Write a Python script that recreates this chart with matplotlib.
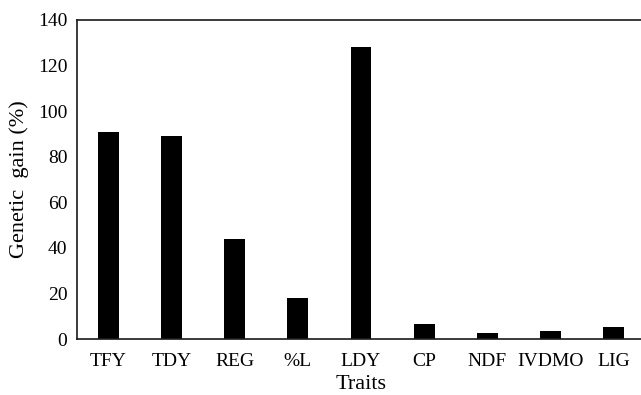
import matplotlib.pyplot as plt

plt.rcParams['font.family'] = ['Liberation Serif', 'DejaVu Serif']

# data
traits = ["TFY", "TDY", "REG", "%L", "LDY", "CP", "NDF", "IVDMO", "LIG"]
gain = [91, 89, 44, 18, 128, 6.6, 2.5, 3.6, 5.4]

fig = plt.figure(figsize=(6.41, 3.95), dpi=100)
ax = fig.add_axes([77 / 641, 56 / 395, 568 / 641, 319 / 395])

ax.bar(range(len(traits)), gain, width=0.33, color='black')
ax.set_xlim(-0.5, len(traits) - 0.5)
ax.set_ylim(0, 140)
ax.set_yticks(range(0, 141, 20))
ax.set_xticks(range(len(traits)))
ax.set_xticklabels(traits)
ax.tick_params(length=0, labelsize=14)
ax.tick_params(axis='y', pad=7)
ax.tick_params(axis='x', pad=10)

for side in ['left', 'bottom', 'top']:
    ax.spines[side].set_linewidth(1.2)
    ax.spines[side].set_color('#1a1a1a')
ax.spines['right'].set_visible(False)

ax.set_xlabel('Traits', fontsize=16, labelpad=4)
ax.set_ylabel('Genetic  gain (%)', fontsize=16, labelpad=6)

fig.savefig('out.png', dpi=100)
